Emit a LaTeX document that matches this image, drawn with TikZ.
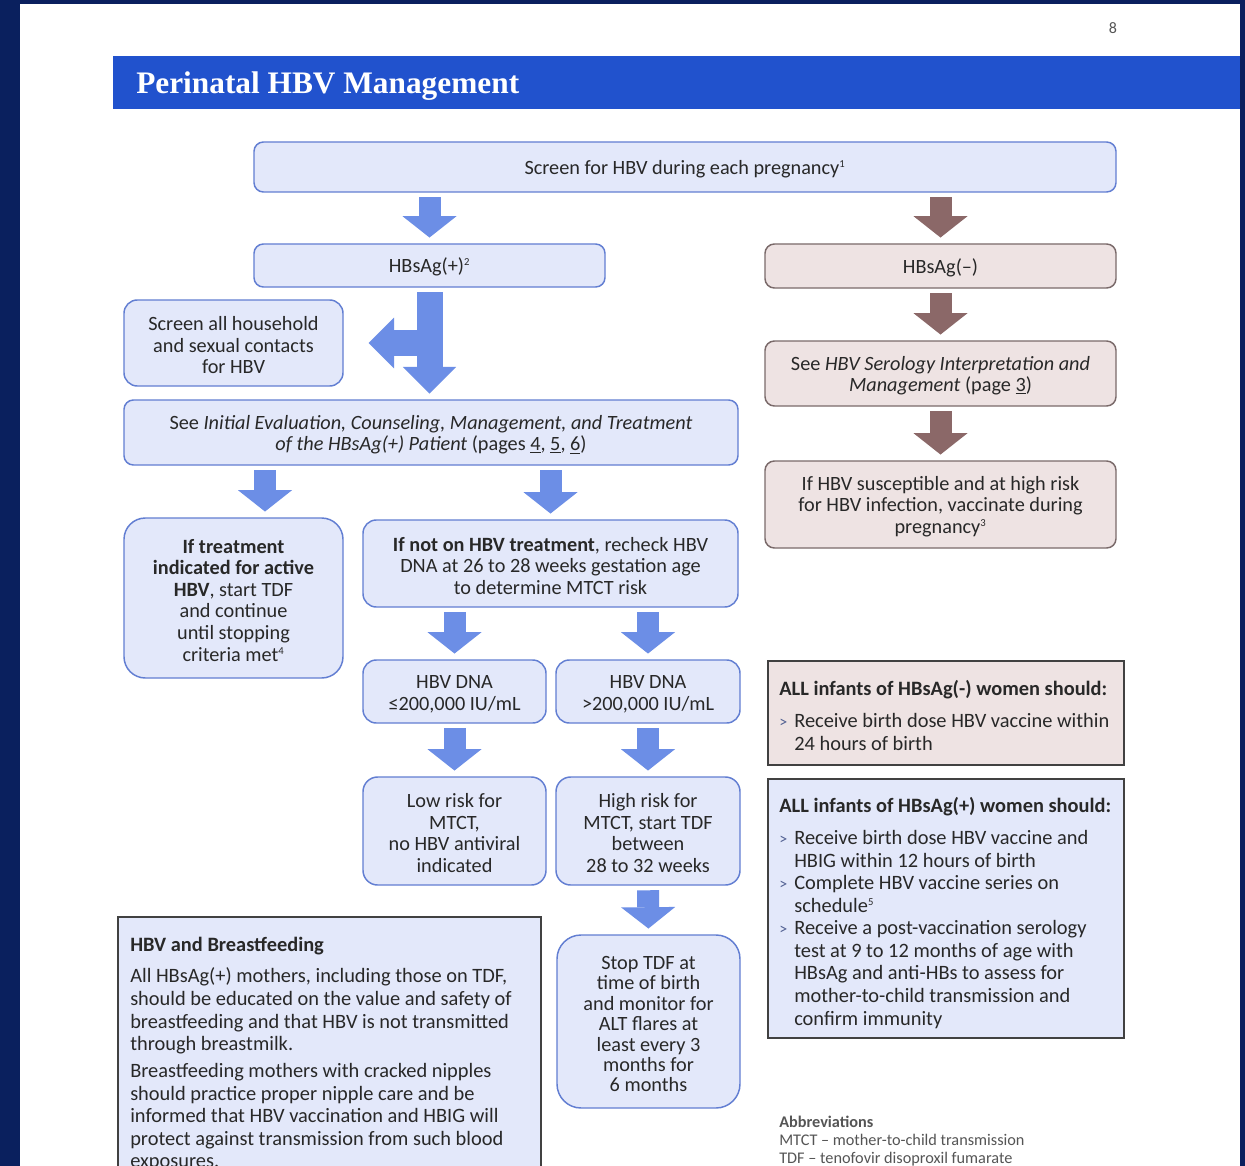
\documentclass[tikz,border=0pt]{standalone}
\usepackage{fontspec}
\setmainfont{Carlito}
\newfontfamily\titlefont{Liberation Serif}
\usetikzlibrary{arrows.meta,calc}
\definecolor{navy}{RGB}{10,32,94}
\definecolor{titlebar}{RGB}{33,82,205}
\definecolor{bfill}{RGB}{227,232,250}
\definecolor{bdraw}{RGB}{98,126,210}
\definecolor{ablue}{RGB}{108,142,230}
\definecolor{mfill}{RGB}{238,227,227}
\definecolor{mdraw}{RGB}{122,106,106}
\definecolor{abrown}{RGB}{139,104,104}
\definecolor{txt}{RGB}{40,40,40}
\definecolor{txtgray}{RGB}{85,85,85}
\definecolor{infodraw}{RGB}{65,65,65}
\definecolor{bulc}{RGB}{80,95,145}
\newcommand\bul{\makebox[11.25pt][l]{\raisebox{0.4pt}{\color{bulc}\fontsize{12}{12}\selectfont >}}}
\newcommand\bin{\hspace*{11.25pt}}
\newcommand\sups[1]{\textsuperscript{\fontsize{8}{9}\selectfont #1}}
\newcommand\fl{\rule{0pt}{13.8pt}}
\tikzset{
  box/.style={draw=bdraw, fill=bfill, line width=1.1pt, rounded corners=7pt,
    align=center, text=txt, inner sep=0pt, font=\fontsize{15.2}{16.2}\selectfont},
  mbox/.style={box, draw=mdraw, fill=mfill},
  infobox/.style={draw=infodraw, fill=bfill, line width=1pt, inner sep=0pt},
  infotext/.style={anchor=north west, align=left, text=txt, inner sep=0pt,
    font=\fontsize{15.3}{16.9}\selectfont},
  barrow/.style={draw=ablue, line width=16.5pt,
    -{Triangle[width=40.5pt,length=16pt,line width=0pt]},
    shorten <=3.4pt, shorten >=4.3pt},
  brarrow/.style={barrow, draw=abrown},
}
\begin{document}
\begin{tikzpicture}[x=0.75pt,y=-0.75pt]
\useasboundingbox (0,0) rectangle (1245,1166);
\fill[navy] (0,0) rectangle (1245,1166);
\fill[white] (20,4) rectangle (1240,1170);
\fill[titlebar] (113,56) rectangle (1240,109);
\node[anchor=west, text=white, inner sep=0pt,
  font=\titlefont\bfseries\fontsize{23.5}{28}\selectfont] (title) at (136,86) {Perinatal HBV Management};
\node[font=\fontsize{12}{14}\selectfont, text=txtgray, inner sep=0pt] (pnum) at (1113,28) {8};

% flow boxes
\node[box, minimum width=646.5pt, minimum height=37.5pt] (screen) at (685,167)
  {\fl Screen for HBV during each pregnancy\sups{1}};
\node[box, minimum width=263.25pt, minimum height=32.25pt] (hbp) at (429.5,265.5)
  {\fl HBsAg(+)\sups{2}};
\node[mbox, minimum width=263.25pt, minimum height=33pt] (hbn) at (940.5,266)
  {\fl HBsAg(–)};
\node[box, rounded corners=10pt, minimum width=164.25pt, minimum height=64.5pt] (house) at (233.5,343)
  {\fl Screen all household\\and sexual contacts\\for HBV};
\node[box, minimum width=460.5pt, minimum height=48.75pt] (init) at (431,432.5)
  {\fl See \textit{Initial Evaluation, Counseling, Management, and Treatment}\\
   \textit{of the HBsAg(+) Patient} (pages \underline{4}, \underline{5}, \underline{6})};
\node[mbox, minimum width=263.25pt, minimum height=48.75pt] (sero) at (940.5,373.5)
  {\fl See \textit{HBV Serology Interpretation and}\\\textit{Management} (page \underline{3})};
\node[mbox, minimum width=263.25pt, minimum height=65.25pt] (susc) at (940.5,504.5)
  {\fl If HBV susceptible and at high risk\\for HBV infection, vaccinate during\\pregnancy\sups{3}};
\node[box, rounded corners=16pt, minimum width=164.25pt, minimum height=120pt] (treat) at (233.5,598)
  {\fl\textbf{If treatment}\\\textbf{indicated for active}\\\textbf{HBV}, start TDF\\and continue\\until stopping\\criteria met\sups{4}};
\node[box, rounded corners=10pt, minimum width=281.25pt, minimum height=65.25pt] (noton) at (550.5,563.5)
  {\fl\textbf{If not on HBV treatment}, recheck HBV\\DNA at 26 to 28 weeks gestation age\\to determine MTCT risk};
\node[box, rounded corners=10pt, minimum width=137.25pt, minimum height=47.25pt] (dnal) at (454.5,691.5)
  {\fl HBV DNA\\≤200,000 IU/mL};
\node[box, rounded corners=10pt, minimum width=138pt, minimum height=47.25pt] (dnah) at (648,691.5)
  {\fl HBV DNA\\>200,000 IU/mL};
\node[box, rounded corners=11pt, minimum width=137.25pt, minimum height=81pt] (lowr) at (454.5,831)
  {\fl Low risk for\\MTCT,\\no HBV antiviral\\indicated};
\node[box, rounded corners=11pt, minimum width=138pt, minimum height=81pt] (highr) at (648,831)
  {\fl High risk for\\MTCT, start TDF\\between\\28 to 32 weeks};
\node[box, rounded corners=18pt, minimum width=137.25pt, minimum height=129.75pt,
  font=\fontsize{15.2}{15.3}\selectfont] (stop) at (648.5,1021.5)
  {\fl Stop TDF at\\time of birth\\and monitor for\\ALT flares at\\least every 3\\months for\\6 months};

% info boxes
\node[infobox, fill=mfill, minimum width=267pt, minimum height=78pt] (infn) at (946,713) {};
\node[infotext] (infntxt) at (779,680.5)
  {\textbf{ALL infants of HBsAg(-) women should:}\\[7pt]
   \bul Receive birth dose HBV vaccine within\\
   \bin 24 hours of birth};
\node[infobox, minimum width=267pt, minimum height=194.25pt] (infp) at (946,908.5) {};
\node[infotext] (infptxt) at (779,797.5)
  {\textbf{ALL infants of HBsAg(+) women should:}\\[7pt]
   \bul Receive birth dose HBV vaccine and\\
   \bin HBIG within 12 hours of birth\\
   \bul Complete HBV vaccine series on\\
   \bin schedule\sups{5}\\
   \bul Receive a post-vaccination serology\\
   \bin test at 9 to 12 months of age with\\
   \bin HBsAg and anti-HBs to assess for\\
   \bin mother-to-child transmission and\\
   \bin confirm immunity};
\node[infobox, minimum width=317.25pt, minimum height=197.25pt] (bf) at (329.5,1048.5) {};
\node[infotext] (bftxt) at (130,936.5)
  {\textbf{HBV and Breastfeeding}\\[7pt]
   All HBsAg(+) mothers, including those on TDF,\\
   should be educated on the value and safety of\\
   breastfeeding and that HBV is not transmitted\\
   through breastmilk.\\[3.5pt]
   Breastfeeding mothers with cracked nipples\\
   should practice proper nipple care and be\\
   informed that HBV vaccination and HBIG will\\
   protect against transmission from such blood\\
   exposures.};
\node[anchor=north west, align=left, inner sep=0pt, text=txtgray,
  font=\fontsize{12.2}{13.5}\selectfont] (abbr) at (779,1116)
  {\textbf{Abbreviations}\\MTCT – mother-to-child transmission\\TDF – tenofovir disoproxil fumarate};

% arrows
\coordinate (a6) at (265,0);
\draw[barrow] (hbp.north |- screen.south) -- (hbp.north);
\draw[brarrow] (hbn.north |- screen.south) -- (hbn.north);
\draw[brarrow] (hbn.south) -- (sero.north);
\draw[brarrow] (sero.south) -- (susc.north);
\draw[barrow, line width=19.5pt, -{Triangle[width=40pt,length=20pt,line width=0pt]}]
  (hbp.south) -- (hbp.south |- init.north);
\draw[barrow, line width=19.5pt, shorten <=0pt, shorten >=18.75pt,
  -{Triangle[width=38pt,length=19pt,line width=0pt]}]
  (hbp.south |- house.east) -- (house.east);
\draw[barrow] (init.south -| a6) -- (treat.north -| a6);
\draw[barrow] (init.south -| noton.north) -- (noton.north);
\draw[barrow] (noton.south -| dnal.north) -- (dnal.north);
\draw[barrow] (noton.south -| dnah.north) -- (dnah.north);
\draw[barrow] (dnal.south) -- (lowr.north);
\draw[barrow] (dnah.south) -- (highr.north);
\draw[barrow] (highr.south) -- (stop.north);
\end{tikzpicture}
\end{document}
